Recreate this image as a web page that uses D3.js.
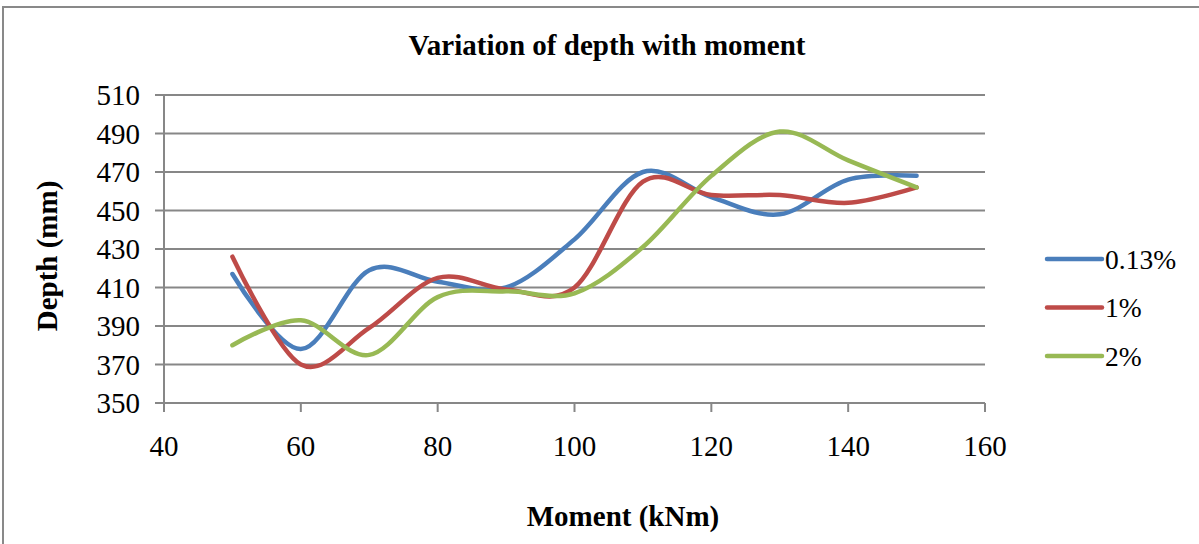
<!DOCTYPE html>
<html>
<head>
<meta charset="utf-8">
<script src="https://cdn.jsdelivr.net/npm/d3@7"></script>
<style>
  body { margin: 0; background: #fff; }
  svg text { font-family: "Liberation Serif", "Times New Roman", "DejaVu Serif", serif; fill: #000; }
</style>
</head>
<body>
<div class="chart"></div>
<script>
var moment = [50, 60, 70, 80, 90, 100, 110, 120, 130, 140, 150];
var series = ["0.13%", "1%", "2%"];
var depth013 = [417, 378, 419, 413, 410, 435, 470, 457, 448, 466, 468];
var depth1 = [426, 370, 389, 415, 409, 410, 465, 458, 458, 454, 462];
var depth2 = [380, 393, 375, 405, 408, 407, 431, 468, 491, 476, 462];
var xTicks = [40, 60, 80, 100, 120, 140, 160];
var yTicks = [350, 370, 390, 410, 430, 450, 470, 490, 510];
var colors = ["#4A7EBB", "#BE4B48", "#98B954"];

var width = 1199;
var height = 544;

var svg = d3.select(".chart")
    .append("svg")
    .attr("width", width)
    .attr("height", height);

// outer chart frame (only left and top edges are visible in the crop)
svg.append("rect")
    .attr("x", 3)
    .attr("y", 7)
    .attr("width", 1220)
    .attr("height", 560)
    .style("fill", "none")
    .style("stroke", "#898989")
    .style("stroke-width", 2);

var xScale = d3.scaleLinear()
    .domain([40, 160])
    .range([164, 985]);

var yScale = d3.scaleLinear()
    .domain([350, 510])
    .range([403, 95]);

// horizontal gridlines
svg.append("g")
    .selectAll("line")
    .data(yTicks)
    .enter()
    .append("line")
    .attr("x1", xScale(40) - 9)
    .attr("x2", xScale(160))
    .attr("y1", function(d) { return yScale(d); })
    .attr("y2", function(d) { return yScale(d); })
    .style("stroke", "#878787")
    .style("stroke-width", 2);

// y axis line
svg.append("line")
    .attr("x1", xScale(40))
    .attr("x2", xScale(40))
    .attr("y1", yScale(510))
    .attr("y2", yScale(350))
    .style("stroke", "#878787")
    .style("stroke-width", 2);

// x ticks
svg.append("g")
    .selectAll("line")
    .data(xTicks)
    .enter()
    .append("line")
    .attr("x1", function(d) { return xScale(d); })
    .attr("x2", function(d) { return xScale(d); })
    .attr("y1", yScale(350))
    .attr("y2", yScale(350) + 9)
    .style("stroke", "#878787")
    .style("stroke-width", 2);

svg.append("g")
    .selectAll("text")
    .data(yTicks)
    .enter()
    .append("text")
    .attr("x", 140)
    .attr("y", function(d) { return yScale(d); })
    .attr("dy", "0.35em")
    .attr("text-anchor", "end")
    .style("font-size", "29px")
    .text(function(d) { return d; });

svg.append("g")
    .selectAll("text")
    .data(xTicks)
    .enter()
    .append("text")
    .attr("x", function(d) { return xScale(d); })
    .attr("y", 456)
    .attr("text-anchor", "middle")
    .style("font-size", "29px")
    .text(function(d) { return d; });

// titles
svg.append("text")
    .attr("x", 607)
    .attr("y", 55)
    .attr("text-anchor", "middle")
    .style("font-size", "29px")
    .style("font-weight", "bold")
    .text("Variation of depth with moment");

svg.append("text")
    .attr("x", 623)
    .attr("y", 526)
    .attr("text-anchor", "middle")
    .style("font-size", "29px")
    .style("font-weight", "bold")
    .text("Moment (kNm)");

svg.append("text")
    .attr("transform", "translate(57,256) rotate(-90)")
    .attr("text-anchor", "middle")
    .style("font-size", "29px")
    .style("font-weight", "bold")
    .text("Depth (mm)");

// lines
var line = d3.line()
    .x(function(d) { return xScale(d[0]); })
    .y(function(d) { return yScale(d[1]); })
    .curve(d3.curveCardinal.tension(0));

var allData = [depth013, depth1, depth2];

svg.append("g")
    .selectAll("path")
    .data(allData)
    .enter()
    .append("path")
    .attr("d", function(d) { return line(d3.zip(moment, d)); })
    .style("fill", "none")
    .style("stroke", function(d, i) { return colors[i]; })
    .style("stroke-width", 4.5)
    .style("stroke-linecap", "round");

// legend
var legend = svg.append("g")
    .selectAll("g")
    .data(series)
    .enter()
    .append("g")
    .attr("transform", function(d, i) { return "translate(1047," + (259 + i * 48.5) + ")"; });

legend.append("line")
    .attr("x1", 0)
    .attr("x2", 55)
    .style("stroke", function(d, i) { return colors[i]; })
    .style("stroke-width", 4.5)
    .style("stroke-linecap", "round");

legend.append("text")
    .attr("x", 58)
    .attr("dy", "0.35em")
    .style("font-size", "27.5px")
    .text(function(d) { return d; });
</script>
</body>
</html>
